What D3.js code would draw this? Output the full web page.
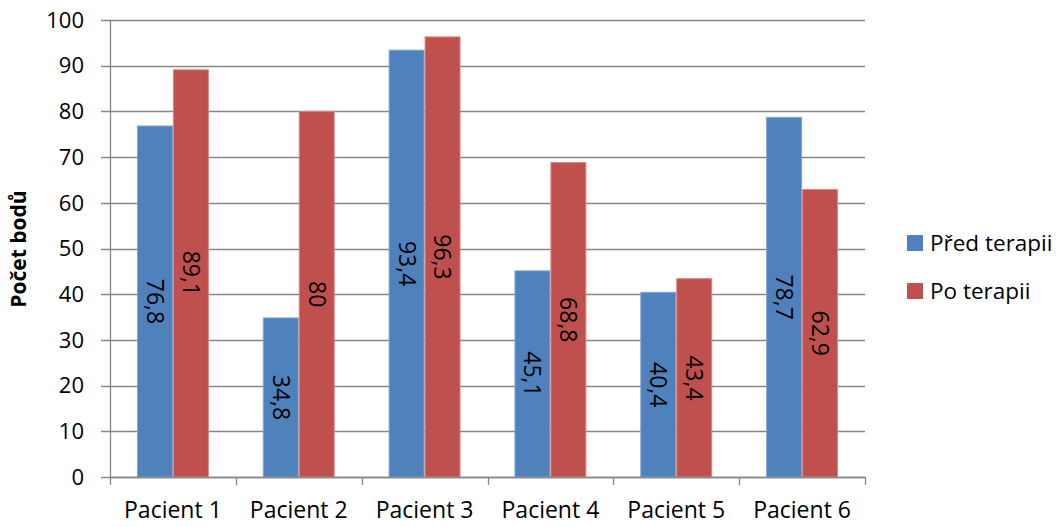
<!DOCTYPE html>
<html>
<head>
<meta charset="utf-8">
<script src="https://cdn.jsdelivr.net/npm/d3@7"></script>
<style>
  html, body { margin: 0; padding: 0; background: #fff; }
  svg { display: block; font-family: "Open Sans", "DejaVu Sans", sans-serif; }
</style>
</head>
<body>
<svg id="chart" width="1062" height="527"></svg>
<script>
// Chart data
const categories = ["Pacient 1", "Pacient 2", "Pacient 3", "Pacient 4", "Pacient 5", "Pacient 6"];
const seriesNames = ["Před terapii", "Po terapii"];
const predTerapii = [76.8, 34.8, 93.4, 45.1, 40.4, 78.7];
const poTerapii = [89.1, 80, 96.3, 68.8, 43.4, 62.9];
const yTicks = [0, 10, 20, 30, 40, 50, 60, 70, 80, 90, 100];
const yTitle = "Počet bodů";

const colors = ["#4F81BD", "#C0504D"];
const strokes = ["#7FA3D1", "#D98583"];
const series = [predTerapii, poTerapii];

const svg = d3.select("#chart");
const plotLeft = 110, plotRight = 865, plotTop = 20, plotBottom = 477;

const x0 = d3.scaleBand().domain(categories).range([plotLeft, plotRight]).paddingInner(0).paddingOuter(0);
const x1 = d3.scaleBand().domain(d3.range(series.length)).range([0, x0.bandwidth()]).paddingInner(0).paddingOuter(0.75);
const y = d3.scaleLinear().domain([0, 100]).range([plotBottom, plotTop]);

const gridColor = "#868686";
const fmt = v => String(v).replace(".", ",");

// Horizontal gridlines with outward ticks
svg.append("g").selectAll("line").data(yTicks).join("line")
  .attr("x1", plotLeft - 9).attr("x2", plotRight)
  .attr("y1", d => Math.round(y(d)) + 0.5).attr("y2", d => Math.round(y(d)) + 0.5)
  .attr("stroke", gridColor).attr("stroke-width", 1.3);

// Y tick labels
svg.append("g").selectAll("text").data(yTicks).join("text")
  .attr("x", 84).attr("y", d => y(d))
  .attr("dy", "0.35em")
  .attr("text-anchor", "end")
  .attr("font-size", 22)
  .attr("fill", "#000")
  .text(d => d);

// Bars with rotated value labels
const groups = svg.append("g").selectAll("g").data(categories).join("g")
  .attr("transform", d => `translate(${x0(d)},0)`);

groups.each(function(cat, ci) {
  const g = d3.select(this);
  series.forEach((vals, si) => {
    const v = vals[ci];
    g.append("rect")
      .attr("x", x1(si) + 0.5)
      .attr("y", y(v))
      .attr("width", x1.bandwidth() - 1)
      .attr("height", y(0) - y(v))
      .attr("fill", colors[si])
      .attr("stroke", strokes[si])
      .attr("stroke-width", 1);
    const cx = x1(si) + x1.bandwidth() / 2;
    const cy = (y(v) + y(0)) / 2;
    g.append("text")
      .attr("transform", `translate(${cx},${cy}) rotate(90)`)
      .attr("text-anchor", "middle")
      .attr("dy", "0.35em")
      .attr("font-size", 23)
      .attr("fill", "#000")
      .text(fmt(v));
  });
});

// Y axis line
svg.append("line")
  .attr("x1", plotLeft + 0.5).attr("x2", plotLeft + 0.5)
  .attr("y1", plotTop).attr("y2", plotBottom)
  .attr("stroke", gridColor).attr("stroke-width", 1.3);

// X axis line and category ticks
svg.append("line")
  .attr("x1", plotLeft).attr("x2", plotRight + 0.5)
  .attr("y1", plotBottom + 0.5).attr("y2", plotBottom + 0.5)
  .attr("stroke", gridColor).attr("stroke-width", 1.3);

const boundaries = categories.map(c => x0(c)).concat([plotRight]);
svg.append("g").selectAll("line").data(boundaries).join("line")
  .attr("x1", d => Math.round(d) + 0.5).attr("x2", d => Math.round(d) + 0.5)
  .attr("y1", plotBottom).attr("y2", plotBottom + 8)
  .attr("stroke", gridColor).attr("stroke-width", 1.3);

// Category labels
svg.append("g").selectAll("text").data(categories).join("text")
  .attr("x", d => x0(d) + x0.bandwidth() / 2)
  .attr("y", 518)
  .attr("text-anchor", "middle")
  .attr("font-size", 23)
  .attr("fill", "#000")
  .text(d => d);

// Y axis title
svg.append("text")
  .attr("transform", "translate(26,249) rotate(-90)")
  .attr("text-anchor", "middle")
  .attr("font-size", 21)
  .attr("font-weight", "bold")
  .attr("fill", "#000")
  .text(yTitle);

// Legend
const legend = svg.append("g").selectAll("g").data(seriesNames).join("g")
  .attr("transform", (d, i) => `translate(907,${235 + i * 48})`);
legend.append("rect")
  .attr("width", 16).attr("height", 16)
  .attr("fill", (d, i) => colors[i]);
legend.append("text")
  .attr("x", 23).attr("y", 8)
  .attr("dy", "0.35em")
  .attr("font-size", 22.5)
  .attr("fill", "#000")
  .text(d => d);
</script>
</body>
</html>
